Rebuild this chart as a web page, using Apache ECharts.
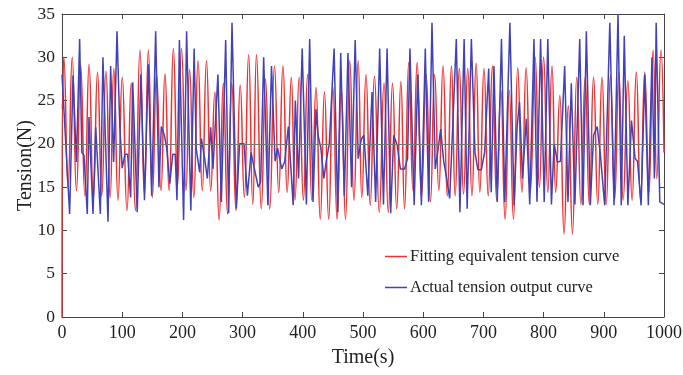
<!DOCTYPE html>
<html>
<head>
<meta charset="utf-8">
<script src="https://cdn.jsdelivr.net/npm/echarts@6/dist/echarts.min.js"></script>
<style>html,body{margin:0;padding:0;background:#fff;}#c{width:683px;height:375px;}</style>
</head>
<body>
<div id="c"></div>
<script>
const xTicks = [0, 100, 200, 300, 400, 500, 600, 700, 800, 900, 1000];
const yTicks = [0, 5, 10, 15, 20, 25, 30, 35];
const seriesNames = ['Fitting equivalent tension curve', 'Actual tension output curve'];

const fitT = [0,0.2,3,10,17,24,31,38,45,52,59,66,73,80,86,93,100,108,115,122,129.5,137,143.5,150,157,164.5,171,178,185,192,198.5,206,212,219,226,233,240,247,254,261,268,275,282,289,296,303,310,317,323,331,338,345,353,360,367,374,381,387,394,401,408,415,422,429,436,443,450,457,464,471,478,485,492,498,505,512,519,527,535,542,549,556,563,569,576,583,590,597,605,612,619,626,633,640,647,653,660,667,674,681,688,694,701,708,715,722,729,736,743,750,757,764,771,778,786,793,800,807,814,820,827,834,841,848,855,862,869,876,883,890,897,904,911,918,925,932,940,947,954,961,968,975,982,988,995,1000];
const fitV = [0,24,30,15.0,30.0,14.6,29.1,14.0,29.2,13.6,28.3,14.0,28.4,13.8,28.7,13.5,27.7,12.3,27.0,12.3,30.8,14.2,30.8,13.8,28.1,14.6,28.1,14.6,31.0,15.2,31.0,14.6,28.6,13.8,29.6,14.6,29.6,14.6,26.0,11.2,27.0,11.9,27.0,12.3,26.8,13.8,30.3,13.0,30.3,12.5,27.5,12.5,29.0,14.4,29.0,14.4,27.7,13.5,27.7,13.5,28.0,13.5,26.5,11.3,26.0,11.3,26.5,11.3,26.3,11.3,29.6,13.5,29.6,13.8,28.0,12.9,27.8,12.1,27.0,12.1,27.0,12.5,27.2,12.5,29.4,14.6,29.4,13.8,28.0,13.3,28.0,14.6,29.0,14.0,29.0,14.0,28.7,14.2,28.7,14.0,29.3,14.4,28.7,14.0,29.0,13.5,26.2,11.3,26.2,11.3,28.8,14.4,28.8,14.4,30.0,15.0,30.0,14.4,29.0,14.4,25.6,9.6,24.4,9.6,27.7,13.0,27.7,13.0,27.7,13.0,27.7,13.0,27.9,13.5,28.3,13.5,27.3,13.5,28.3,13.5,28.3,14.4,30.8,16.0,30.8,19.0];

const actT = [0,12.7,18.3,24,29.3,33,36.5,42,44.8,51.5,56,63.7,68,76.4,80.8,85.8,91.4,96,100,104.6,109,114,117.5,125,131,137,143.4,149,155.6,161,165,170,174,179,184,188,191,195,202,207,214,219.5,223,228.7,231.6,237,241.4,247,250.8,259,264.7,271.9,276.8,282.4,289.6,295,302.4,308,314,320,326,330,335,342,348,354,358,365,370,376,384,387.6,393,399,406,411.4,417,422,425.3,430,435,439,444,452,458,463,469,475,481,487,492,497,501.6,508,515,521,527.7,534,540,546,551,557,562,569,574,578,585,591,597,603.5,609,614.6,620,624,629,634,639,644,649,655,661,668,673,680,686,691,696.5,702,708.8,713,717.6,723,730,735.5,744,751,756,760,765,771.3,777,784,789,795,801,807,813,817.5,823,828,835,840.5,846,852,860,865.5,871,877.6,883,889,894,901.5,910,917,923.6,929,934,940,946,952,956,962,968,974,980,984,987,993,1000];
const actV = [28,11.9,27.9,17.9,32.1,19,18.7,11.9,23.1,11.9,21.9,11.9,30,11,29,17.9,33,22,17.2,18.8,18.8,13.8,27.1,12.1,28,13.5,29.2,14,33,15,22,21,19.5,15.4,18.8,18.8,13.5,32,11.2,33,12.3,31,19.4,16.7,20.6,18.3,16,21.9,17.1,28,13.3,32,12,34,12.5,20,20,14,19,17,15,15.6,30,12.9,29,18,19.5,17.1,18,22,12.9,25,16,31,13,32.1,13.3,24,21,19.5,16,18,20,31,12.1,30.5,14,30.5,15,32,18.3,20.5,21,14,26,13.3,31,13,31,12,21,19.8,17.1,17.1,18.3,31,12.9,28,12.9,31,13.3,34,17.1,19,21.7,18,16,13.7,22,32.1,12.1,32.1,12.5,32.1,19,17,17,19,28.7,14.4,29,13.3,32.1,13.3,34,12.9,22,24.8,16,22.9,13,32.1,13.3,32.1,13.3,32.1,13,20,17.9,18,29,13.3,27,13,32.1,12.9,33,12.9,21,22,19,12.9,34,12.9,35,12.9,32.5,12.9,22.7,18.3,18,12.9,28,12.9,30,16,34,13.3,13];

const fitData = fitT.map((t, i) => [t, fitV[i]]);
const actData = actT.map((t, i) => [t, actV[i]]);

const serif = '"Liberation Serif", "Times New Roman", serif';
const chart = echarts.init(document.getElementById('c'), null, {renderer: 'canvas'});
const axisLineStyle = {show: true, onZero: false, lineStyle: {color: '#444', width: 1}};
const tickStyle = {show: true, inside: true, length: 5, lineStyle: {color: '#444'}};
chart.setOption({
  animation: false,
  backgroundColor: '#fff',
  grid: {left: 62, right: 19, top: 14, bottom: 58, containLabel: false, outerBoundsMode: 'none'},
  legend: {
    orient: 'vertical', left: 380, top: 243, itemGap: 14,
    itemWidth: 22, itemHeight: 1.5, icon: 'rect',
    textStyle: {fontFamily: serif, fontSize: 16.5, color: '#222', padding: [0, 0, 0, -2]},
    data: seriesNames
  },
  xAxis: [{
    type: 'value', min: xTicks[0], max: xTicks[xTicks.length - 1], interval: 100,
    name: 'Time(s)', nameLocation: 'middle', nameGap: 31, nameMoveOverlap: false,
    nameTextStyle: {fontFamily: serif, fontSize: 20, color: '#222'},
    axisLine: axisLineStyle, axisTick: tickStyle,
    axisLabel: {fontFamily: serif, fontSize: 18, color: '#222', margin: 7, formatter: v => String(v)},
    splitLine: {show: false}
  }, {
    type: 'value', position: 'top', min: 0, max: 1000, interval: 100,
    axisLine: axisLineStyle, axisTick: tickStyle,
    axisLabel: {show: false}, splitLine: {show: false}
  }],
  yAxis: [{
    type: 'value', min: yTicks[0], max: yTicks[yTicks.length - 1], interval: 5,
    name: 'Tension(N)', nameLocation: 'middle', nameGap: 26, nameMoveOverlap: false,
    nameTextStyle: {fontFamily: serif, fontSize: 20, color: '#222'},
    axisLine: axisLineStyle, axisTick: tickStyle,
    axisLabel: {fontFamily: serif, fontSize: 17.5, color: '#222', margin: 7},
    splitLine: {show: false}
  }, {
    type: 'value', position: 'right', min: 0, max: 35, interval: 5,
    axisLine: axisLineStyle, axisTick: tickStyle,
    axisLabel: {show: false}, splitLine: {show: false}
  }],
  series: [{
    name: seriesNames[0], type: 'line', data: fitData,
    symbol: 'none', smooth: 0.5, smoothMonotone: 'x',
    lineStyle: {color: '#f23030', width: 1.5},
    itemStyle: {color: '#f23030'},
    markLine: {
      silent: true, symbol: 'none', label: {show: false},
      lineStyle: {color: '#777', width: 1, type: 'solid'},
      data: [{yAxis: 20}]
    },
    z: 2
  }, {
    name: seriesNames[1], type: 'line', data: actData,
    symbol: 'none', smooth: false,
    lineStyle: {color: '#4242b8', width: 1.5},
    itemStyle: {color: '#4242b8'},
    z: 3
  }]
});
</script>
</body>
</html>
